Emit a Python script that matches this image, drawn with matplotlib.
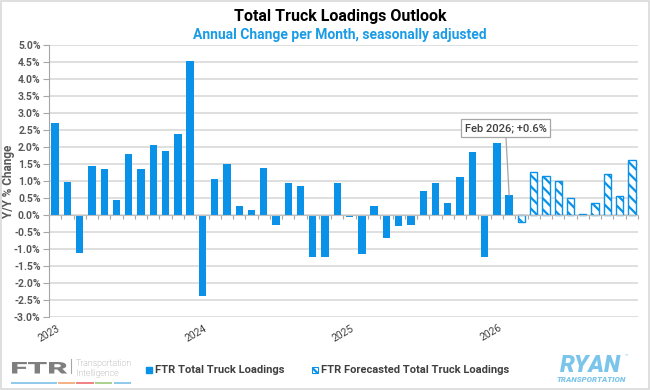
import matplotlib
matplotlib.use("Agg")
import matplotlib.pyplot as plt
from matplotlib.patches import Rectangle, PathPatch
from matplotlib.lines import Line2D
from matplotlib.textpath import TextPath
from matplotlib.font_manager import FontProperties
from matplotlib.transforms import Affine2D, IdentityTransform
import numpy as np

# Monthly Y/Y % change, Jan 2023 - Feb 2026 (actual)
actual = [2.71, 0.98, -1.13, 1.44, 1.35, 0.44, 1.79, 1.34, 2.06, 1.88, 2.37, 4.52,
          -2.38, 1.07, 1.51, 0.26, 0.15, 1.37, -0.30, 0.93, 0.84, -1.23, -1.23, 0.94,
          -0.07, -1.16, 0.27, -0.67, -0.31, -0.28, 0.71, 0.93, 0.34, 1.12, 1.86, -1.23,
          2.11, 0.58]
# Mar 2026 - Dec 2026 (forecast)
forecast = [-0.20, 1.26, 1.16, 0.99, 0.49, 0.03, 0.34, 1.20, 0.57, 1.62]
years = ["2023", "2024", "2025", "2026"]
yticks = np.arange(-3.0, 5.01, 0.5)

blue = "#0a91e8"
grey_txt = "#595959"

plt.rcParams['font.family'] = "Roboto"
plt.rcParams['hatch.linewidth'] = 1.6
plt.rcParams['hatch.color'] = blue

fig = plt.figure(figsize=(6.5, 3.9), dpi=100)
ax = fig.add_axes([0.0754, 0.1872, 0.9061, 0.6974])

xa = np.arange(len(actual))
xf = np.arange(len(actual), len(actual) + len(forecast))
ax.bar(xa, actual, width=0.6, color=blue, zorder=3)
ax.bar(xf, forecast, width=0.6, color="white", edgecolor=blue, hatch="\\\\\\",
       linewidth=1.0, zorder=3)

ax.set_xlim(-0.5, len(actual) + len(forecast) - 0.5)
ax.set_ylim(-3.0, 5.0)
ax.set_yticks(yticks)
ax.set_yticklabels([f"{v:.1f}%" for v in yticks], fontsize=7.5, fontweight="bold",
                   color=grey_txt)
ax.grid(axis="y", color="#d9d9d9", linewidth=1.2, zorder=0)
ax.set_axisbelow(True)

for s in ["top", "right"]:
    ax.spines[s].set_visible(False)
ax.spines["left"].set_color("#a6a6a6")
ax.spines["bottom"].set_position(("data", 0))
ax.spines["bottom"].set_color("#bfbfbf")
ax.spines["bottom"].set_zorder(4)
ax.set_xticks(np.arange(-0.5, len(actual) + len(forecast), 1.0))
ax.set_xticklabels([])
ax.tick_params(axis="x", length=3, color="#a6a6a6")
ax.tick_params(axis="y", length=4, color="#a6a6a6", pad=2)

for i, yr in enumerate(years):
    ax.text(i * 12 + 0.1, -0.022, yr, transform=ax.get_xaxis_transform(), rotation=30,
            rotation_mode="anchor", ha="right", va="top", fontsize=7.5,
            color="#404040")

# y label
ax.text(-0.0685, 0.5, "Y/Y % Change", transform=ax.transAxes, rotation=90,
        ha="center", va="center", fontsize=8.5, fontweight="bold", color=grey_txt)

ax.annotate("Feb 2026; +0.6%", xy=(37, actual[-1]), xytext=(36.7, 2.56),
            ha="center", va="center", fontsize=8, color="#404040", fontweight="medium",
            bbox=dict(boxstyle="square,pad=0.35", fc="white", ec="#a6a6a6", lw=0.9),
            arrowprops=dict(arrowstyle="-", color="#a6a6a6", lw=0.9, shrinkA=0, shrinkB=0),
            zorder=5)

fig.text(0.523, 0.957, "Total Truck Loadings Outlook", ha="center", va="center",
         fontsize=11.5, fontweight="bold", color="black")
fig.text(0.523, 0.910, "Annual Change per Month, seasonally adjusted", ha="center",
         va="center", fontsize=10, fontweight="bold", color="#1a9be6")

# legend, drawn by hand to match the spacing
leg_y = 0.044
fig.add_artist(Rectangle((0.2245, leg_y), 0.0095, 0.016, transform=fig.transFigure,
                         fc=blue, ec=blue))
fig.text(0.238, leg_y + 0.008, "FTR Total Truck Loadings", fontsize=8, fontweight="bold",
         color="#404040", va="center")
fig.add_artist(Rectangle((0.48, leg_y), 0.0095, 0.016, transform=fig.transFigure,
                         fc="white", ec=blue, hatch="\\\\\\", lw=0.8))
fig.text(0.4935, leg_y + 0.008, "FTR Forecasted Total Truck Loadings", fontsize=8,
         fontweight="bold", color="#404040", va="center")

# FTR logo: wide letters, stretched to fit the logo box (pixels)
tp = TextPath((0, 0), "FTR", size=10, prop=FontProperties(family="Roboto", weight="black"))
ext = tp.get_extents()
sx = 55 / ext.width
sy = 11.5 / ext.height
tr = Affine2D().translate(-ext.x0, -ext.y0).scale(sx, sy).translate(12, 390 - 373.5)
fig.add_artist(PathPatch(tr.transform_path(tp), transform=IdentityTransform(),
                         fc="#7f7f7f", ec="none"))
fig.add_artist(Line2D([0.109, 0.109], [0.043, 0.079], color="#a6a6a6", lw=0.8))
fig.text(0.117, 0.062, "Transportation", fontsize=6.3, fontweight="light", color="#8c8c8c")
fig.text(0.117, 0.036, "Intelligence", fontsize=6.3, fontweight="light", color="#8c8c8c")
segs = [(0.018, 0.086, "#8ec9ea"), (0.091, 0.114, "#f4b183"), (0.118, 0.143, "#f08080"),
        (0.148, 0.171, "#a9d18e"), (0.177, 0.2, "#8ec9ea")]
for x0, x1, c in segs:
    fig.add_artist(Line2D([x0, x1], [0.019, 0.019], color=c, lw=1.4))

# RYAN logo
fig.text(0.908, 0.046, "RYAN", fontsize=17, fontweight="black", style="italic",
         color="#7cc5ea", ha="center", va="baseline")
fig.text(0.909, 0.021, "TRANSPORTATION", fontsize=5.8, fontweight="black", style="italic",
         color="#7cc5ea", ha="center", va="baseline")
fig.text(0.961, 0.084, "™", fontsize=4, color="#7cc5ea")

fig.add_artist(Rectangle((0.002, 0.003), 0.996, 0.994, transform=fig.transFigure,
                         fill=False, ec="#d9d9d9", lw=1.2))

fig.savefig("out.png", dpi=100)
